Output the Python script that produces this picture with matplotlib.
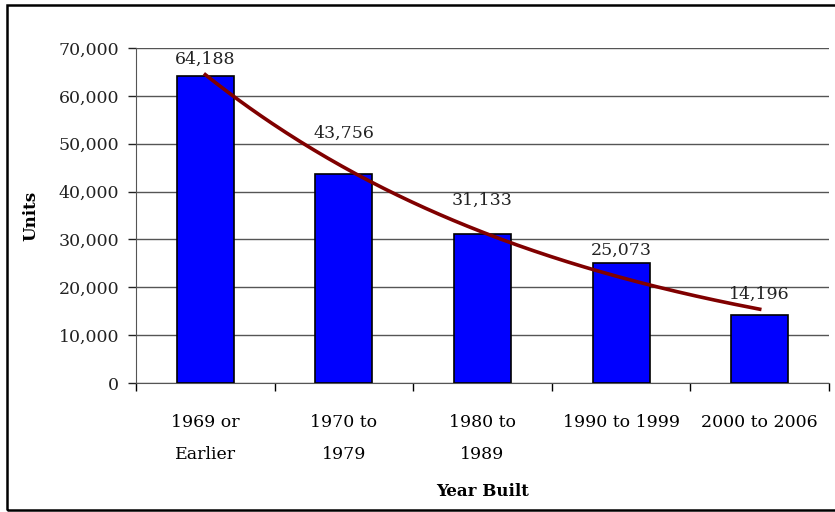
import matplotlib.pyplot as plt
import numpy as np
from matplotlib.patches import Rectangle
from matplotlib.ticker import FuncFormatter

categories = ["1969 or\nEarlier", "1970 to\n1979", "1980 to\n1989", "1990 to 1999", "2000 to 2006"]
units = [64188, 43756, 31133, 25073, 14196]

# label gap above each bar (points), labels were nudged around the trendline
label_gaps = [6, 23, 18, 3, 9]

plt.rcParams['font.family'] = ['DejaVu Serif']

fig = plt.figure(figsize=(8.35, 5.12), dpi=100)
ax = fig.add_axes([136 / 835, 1 - 383 / 512, (829 - 136) / 835, (383 - 48) / 512])

x = np.arange(len(units))
ax.bar(x, units, width=0.41, color='#0000FF', edgecolor='black', linewidth=1.2, zorder=3)

for xi, v, g in zip(x, units, label_gaps):
    ax.annotate(f"{v:,}", (xi, v), xytext=(0, g), textcoords='offset points',
                ha='center', va='bottom', fontsize=12.5, color='#222222', zorder=5)

# exponential trendline fitted to the bars
b, a = np.polyfit(x + 1, np.log(units), 1)
xs = np.linspace(0, len(units) - 1, 200)
ax.plot(xs, np.exp(a + b * (xs + 1)), color='#800000', linewidth=2.6, zorder=4)

ax.set_xlim(-0.5, len(units) - 0.5)
ax.set_ylim(0, 70000)
ax.set_yticks(np.arange(0, 70001, 10000))
ax.yaxis.set_major_formatter(FuncFormatter(lambda v, p: f"{int(v):,}"))
ax.yaxis.grid(True, color='#555555', linewidth=1, zorder=0)
ax.set_axisbelow(True)

ax.set_xticks(x)
ax.set_xticklabels(categories, fontsize=12.5, linespacing=2.2)
ax.set_xticks(np.arange(-0.5, len(units), 1), minor=True)
ax.tick_params(axis='x', which='major', length=0, pad=22)
ax.tick_params(axis='x', which='minor', length=6, width=1, color='black')
ax.tick_params(axis='y', length=6, width=1, pad=6, labelsize=12.5, colors='#222222')

for s in ['top', 'right']:
    ax.spines[s].set_visible(False)
ax.spines['left'].set_color('#555555')
ax.spines['bottom'].set_color('#555555')

ax.set_ylabel("Units", fontsize=12, fontweight='bold', labelpad=14)
ax.set_xlabel("Year Built", fontsize=12, fontweight='bold', labelpad=14)

fig.patches.append(Rectangle((6.5 / 835, 2 / 512), 1.0, 1 - 7 / 512, transform=fig.transFigure,
                             fill=False, edgecolor='black', linewidth=1.8))

fig.savefig("out.png", dpi=100)
